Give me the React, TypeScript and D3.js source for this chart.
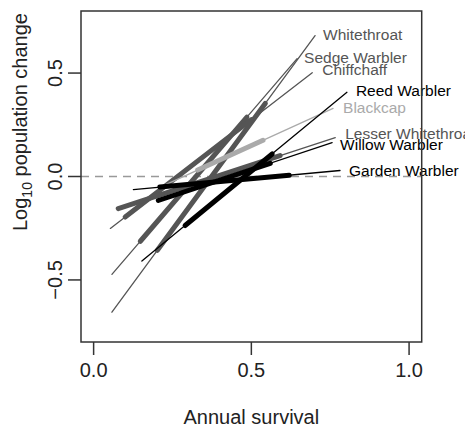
import React from "react";
import * as d3 from "d3";

// species and their fitted lines (annual survival vs log10 population change)
const species = [
  "Whitethroat",
  "Sedge Warbler",
  "Chiffchaff",
  "Lesser Whitethroat",
  "Blackcap",
  "Reed Warbler",
  "Willow Warbler",
  "Garden Warbler",
];

// full range of each line: [survival, log10 change]
const fullStart = [
  [0.058, -0.656],
  [0.058, -0.473],
  [0.053, -0.251],
  [0.078, -0.155],
  [0.22, -0.045],
  [0.153, -0.409],
  [0.205, -0.116],
  [0.126, -0.063],
];
const fullEnd = [
  [0.702, 0.681],
  [0.645, 0.57],
  [0.693, 0.502],
  [0.766, 0.188],
  [0.759, 0.329],
  [0.803, 0.407],
  [0.756, 0.164],
  [0.781, 0.029],
];

// central (observed) part drawn thick
const coreStart = [
  [0.202, -0.357],
  [0.148, -0.313],
  [0.1, -0.196],
  [0.078, -0.155],
  [0.33, 0.031],
  [0.29, -0.237],
  [0.205, -0.116],
  [0.21, -0.051],
];
const coreEnd = [
  [0.544, 0.353],
  [0.486, 0.287],
  [0.5, 0.275],
  [0.591, 0.101],
  [0.537, 0.175],
  [0.566, 0.109],
  [0.56, 0.064],
  [0.62, 0.006],
];

const xTicks = [0, 0.5, 1];
const yTicks = [-0.5, 0, 0.5];

const tone: Record<string, string> = {
  Whitethroat: "#555",
  "Sedge Warbler": "#555",
  Chiffchaff: "#555",
  "Lesser Whitethroat": "#555",
  Blackcap: "#aaa",
  "Reed Warbler": "#000",
  "Willow Warbler": "#000",
  "Garden Warbler": "#000",
};

// label offset from the end of each line (px)
const labelShift: Record<string, [number, number]> = {
  Whitethroat: [8, 4],
  "Sedge Warbler": [7, 4],
  Chiffchaff: [10, 2],
  "Lesser Whitethroat": [10, 1],
  Blackcap: [10, 5],
  "Reed Warbler": [9, 4],
  "Willow Warbler": [8, 7],
  "Garden Warbler": [9, 5],
};

const W = 465;
const H = 427;
const FONT = "'Liberation Sans', Arial, Helvetica, sans-serif";

const App = () => {
  const x = d3.scaleLinear().domain([-0.04, 1.04]).range([81, 421.7]);
  const y = d3.scaleLinear().domain([-0.8, 0.8]).range([342, 11]);
  const [x0, x1] = x.range();
  const [y0, y1] = y.range();
  const fmt = d3.format(".1f");

  return (
    <svg
      width={W}
      height={H}
      style={{ position: "absolute", left: 0, top: 0, background: "#fff" }}
      fontFamily={FONT}
    >
      {/* zero reference */}
      <line
        x1={x0}
        x2={x1}
        y1={y(0)}
        y2={y(0)}
        stroke="#999"
        strokeWidth={1.3}
        strokeDasharray="8 6"
      />

      {species.map((s, i) => (
        <g key={s} stroke={tone[s]} strokeLinecap="round">
          <line
            x1={x(fullStart[i][0])}
            y1={y(fullStart[i][1])}
            x2={x(fullEnd[i][0])}
            y2={y(fullEnd[i][1])}
            strokeWidth={1.3}
          />
          <line
            x1={x(coreStart[i][0])}
            y1={y(coreStart[i][1])}
            x2={x(coreEnd[i][0])}
            y2={y(coreEnd[i][1])}
            strokeWidth={5}
          />
        </g>
      ))}

      {species.map((s, i) => (
        <text
          key={"lab" + s}
          x={x(fullEnd[i][0]) + labelShift[s][0]}
          y={y(fullEnd[i][1]) + labelShift[s][1]}
          fontSize={15.5}
          fill={tone[s]}
        >
          {s}
        </text>
      ))}

      {/* box */}
      <rect
        x={x0}
        y={y1}
        width={x1 - x0}
        height={y0 - y1}
        fill="none"
        stroke="#333"
        strokeWidth={1.5}
      />

      {/* x axis */}
      {xTicks.map((t) => (
        <g key={"xt" + t}>
          <line x1={x(t)} x2={x(t)} y1={y0} y2={y0 + 13} stroke="#333" strokeWidth={1.5} />
          <text x={x(t)} y={y0 + 35} fontSize={20} textAnchor="middle" fill="#222">
            {fmt(t)}
          </text>
        </g>
      ))}
      <text x={(x0 + x1) / 2} y={424} fontSize={20} textAnchor="middle" fill="#222">
        Annual survival
      </text>

      {/* y axis */}
      {yTicks.map((t) => (
        <g key={"yt" + t}>
          <line x1={x0 - 13} x2={x0} y1={y(t)} y2={y(t)} stroke="#333" strokeWidth={1.5} />
          <text
            transform={`translate(${x0 - 19},${y(t)}) rotate(-90)`}
            fontSize={20}
            textAnchor="middle"
            fill="#222"
          >
            {t < 0 ? "\u2212" + fmt(-t) : fmt(t)}
          </text>
        </g>
      ))}
      <text
        transform={`translate(27,122) rotate(-90)`}
        fontSize={20}
        textAnchor="middle"
        fill="#222"
      >
        Log
        <tspan fontSize={14} dy={5}>
          10
        </tspan>
        <tspan dy={-5}> population change</tspan>
      </text>
    </svg>
  );
};

export default App;
